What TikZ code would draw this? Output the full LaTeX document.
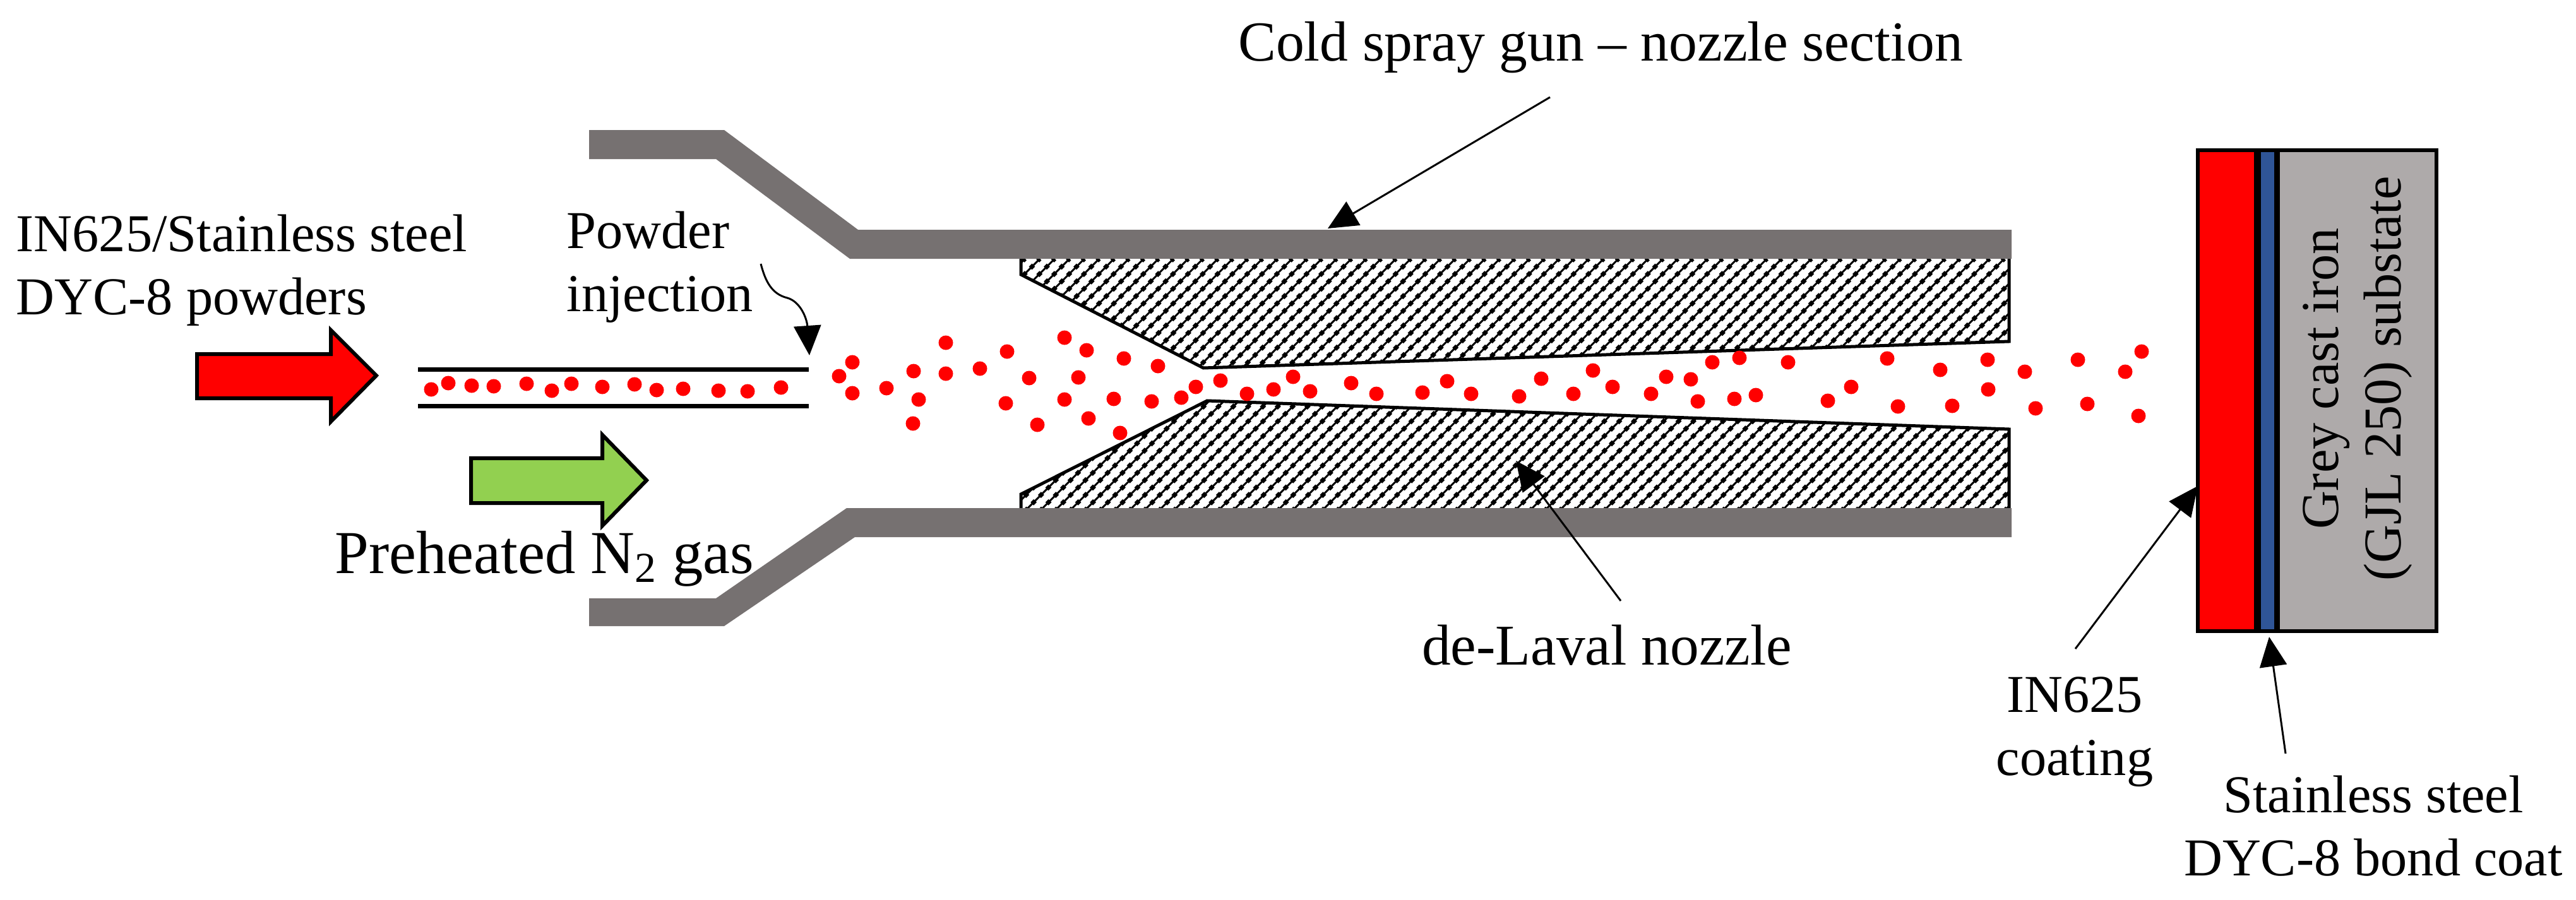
\documentclass[tikz,border=0pt]{standalone}
\usepackage{fontspec}
\setmainfont{Liberation Serif}
\usetikzlibrary{arrows.meta}
\definecolor{gungray}{HTML}{767171}
\definecolor{gasgreen}{HTML}{92D050}
\definecolor{bondblue}{HTML}{2F5597}
\definecolor{ironsilver}{HTML}{AEAAAA}
\tikzset{
  labeltext/.style={font=\fontsize{24}{28.4}\selectfont, align=center, inner sep=0pt},
  leader/.style={line width=0.03cm, -{Triangle[length=0.47cm, width=0.43cm]}},
  flowarrow/.style={draw=black, line width=0.06cm, miter limit=6},
  gunwall/.style={fill=gungray},
  powderdot/.style={fill=red}
}
\begin{document}
\begin{tikzpicture}[y=-1cm]
  \useasboundingbox (0,0) rectangle (40.8,14.26);
  % de-Laval nozzle hatching
  \begin{scope}
    \clip (16.17,4.1) -- (16.17,4.35) -- (19.06,5.83) -- (31.82,5.41) -- (31.82,4.1) -- cycle
          (16.17,8.05) -- (16.17,7.83) -- (19.12,6.35) -- (31.82,6.8) -- (31.82,8.05) -- cycle;
    \foreach \x in {12,12.235,...,32} {
      \draw[line width=0.03cm] (\x,8.1) -- ++(4,-4);
      \draw[line width=0.07cm, dash pattern=on 0.07cm off 0.095cm] (\x,8.1) -- ++(4,-4);
    }
  \end{scope}
  \draw[line width=0.05cm] (16.17,4.1) -- (16.17,4.35) -- (19.06,5.83) -- (31.82,5.41) -- (31.82,4.1);
  \draw[line width=0.05cm] (16.17,8.05) -- (16.17,7.83) -- (19.12,6.35) -- (31.82,6.8) -- (31.82,8.05);
  % Gun walls
  \fill[gunwall] (9.33,2.06) -- (11.47,2.06) -- (13.59,3.64) -- (31.86,3.64) -- (31.86,4.1) -- (13.46,4.1) -- (11.34,2.52) -- (9.33,2.52) -- cycle;
  \fill[gunwall] (9.33,9.48) -- (11.34,9.48) -- (13.41,8.05) -- (31.86,8.05) -- (31.86,8.51) -- (13.54,8.51) -- (11.47,9.92) -- (9.33,9.92) -- cycle;
  % Injection tube
  \draw[line width=0.07cm] (6.62,5.85) -- (12.81,5.85);
  \draw[line width=0.07cm] (6.62,6.43) -- (12.81,6.43);
  % Feed arrows
  \draw[flowarrow, fill=red] (3.12,5.61) -- (5.24,5.61) -- (5.24,5.23) -- (5.96,5.95) -- (5.24,6.68) -- (5.24,6.31) -- (3.12,6.31) -- cycle;
  \draw[flowarrow, fill=gasgreen] (7.46,7.26) -- (9.54,7.26) -- (9.54,6.89) -- (10.24,7.61) -- (9.54,8.33) -- (9.54,7.97) -- (7.46,7.97) -- cycle;
  % Powder particles
  \foreach \x/\y in {6.83/6.17, 7.10/6.07, 7.47/6.11, 7.82/6.12, 8.34/6.08, 8.74/6.19, 9.05/6.08, 9.54/6.13,
      10.05/6.09, 10.40/6.18, 10.82/6.16, 11.38/6.19, 11.84/6.20, 12.37/6.14,
      13.50/5.74, 13.29/5.96, 13.50/6.23, 14.04/6.15, 14.47/5.88, 14.55/6.33, 14.46/6.71, 14.98/5.43,
      14.98/5.92, 15.52/5.84, 15.95/5.57, 16.30/5.99, 15.93/6.39, 16.43/6.73, 16.86/5.35, 17.21/5.55,
      17.08/5.98, 16.86/6.33, 17.24/6.63, 17.64/6.32, 17.80/5.68, 17.74/6.86, 18.34/5.80, 18.24/6.36,
      18.71/6.30, 18.94/6.13, 19.33/6.03, 19.75/6.24, 20.17/6.17, 20.48/5.97, 20.75/6.20, 21.40/6.07,
      21.80/6.24, 22.53/6.22, 22.92/6.04, 23.30/6.24, 24.06/6.28, 24.41/6.00, 24.92/6.24, 25.23/5.87,
      25.54/6.13, 26.15/6.24, 26.39/5.97, 26.78/6.01, 26.89/6.36, 27.12/5.74, 27.55/5.67, 27.47/6.32,
      27.81/6.26, 28.32/5.74, 28.95/6.35, 29.32/6.13, 29.89/5.68, 30.06/6.44, 30.73/5.86, 30.92/6.43,
      31.48/5.70, 31.49/6.17, 32.07/5.89, 32.24/6.47, 32.91/5.70, 33.06/6.40, 33.66/5.89, 33.92/5.57, 33.87/6.59} {
    \fill[powderdot] (\x,\y) circle (0.115);
  }
  % Substrate stack
  \fill[black] (34.78,2.35) rectangle (38.62,10.03);
  \fill[red] (34.84,2.41) rectangle (35.70,9.97);
  \fill[bondblue] (35.81,2.41) rectangle (36.02,9.97);
  \fill[ironsilver] (36.11,2.41) rectangle (38.56,9.97);
  \node[labeltext, rotate=90] (substratelabel) at (37.34,6.0) {Grey cast iron\\(GJL 250) substate};
  % Labels
  \node[labeltext, anchor=west, align=left] (powderlabel) at (0.25,4.28) {IN625/Stainless steel\\DYC-8 powders};
  \node[labeltext, anchor=west, align=left] (injectlabel) at (8.97,4.23) {Powder\\injection};
  \node[labeltext, anchor=west, font=\fontsize{27.5}{32}\selectfont] (gaslabel) at (5.3,8.85) {Preheated N\textsubscript{2} gas};
  \node[labeltext, font=\fontsize{25.5}{30}\selectfont] (gunlabel) at (25.35,0.75) {Cold spray gun -- nozzle section};
  \node[labeltext, font=\fontsize{26}{30}\selectfont] (lavallabel) at (25.45,10.22) {de-Laval nozzle};
  \node[labeltext] (coatinglabel) at (32.86,11.6) {IN625\\coating};
  \node[labeltext] (bondlabel) at (37.59,13.09) {Stainless steel\\DYC-8 bond coat};
  % Leader lines
  \coordinate (injecttail) at (12.05,4.18);
  \coordinate (injecttip) at (12.82,5.63);
  \coordinate (guntail) at (24.55,1.54);
  \coordinate (guntip) at (21.03,3.62);
  \coordinate (lavaltail) at (25.67,9.52);
  \coordinate (lavaltip) at (24.01,7.30);
  \coordinate (coatingtail) at (32.87,10.28);
  \coordinate (coatingtip) at (34.81,7.70);
  \coordinate (bondtail) at (36.20,11.94);
  \coordinate (bondtip) at (35.94,10.09);
  \draw[leader] (injecttail) .. controls (12.12,4.45) and (12.22,4.66) .. (12.47,4.72) .. controls (12.68,4.78) and (12.78,5.05) .. (injecttip);
  \draw[leader] (guntail) -- (guntip);
  \draw[leader] (lavaltail) -- (lavaltip);
  \draw[leader] (coatingtail) -- (coatingtip);
  \draw[leader] (bondtail) -- (bondtip);
\end{tikzpicture}
\end{document}
